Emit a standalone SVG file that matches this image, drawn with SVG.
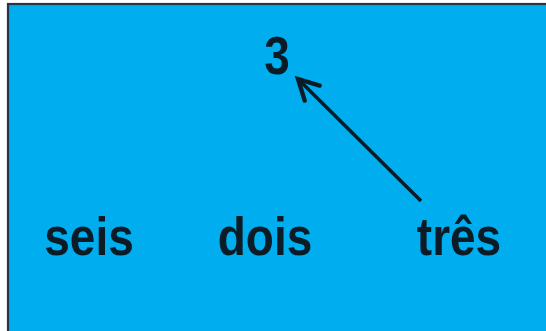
<svg xmlns="http://www.w3.org/2000/svg" width="546" height="331" viewBox="0 0 546 331">
  <style>
    .lbl { font-family: "Liberation Sans", Arial, sans-serif; font-weight: bold; font-size: 46px; fill: #0b1c26; text-anchor: middle; }
    .edge { stroke: #0b1c26; stroke-width: 3.5; fill: none; }
  </style>
  <defs>
    <marker id="open-arrow" markerUnits="userSpaceOnUse" orient="auto" markerWidth="30" markerHeight="30" viewBox="-20 -12 24 24" refX="0" refY="0">
      <path d="M -16 -8.5 L 0 0 L -16 8.5" fill="none" stroke="#0b1c26" stroke-width="3.5" stroke-linecap="round" stroke-linejoin="miter"/>
    </marker>
  </defs>

  <rect width="546" height="331" fill="#ffffff"/>
  <!-- panel, running off the right and bottom edges -->
  <rect x="8" y="4" width="560" height="340" fill="#00aeef" stroke="#263545" stroke-width="2.2"/>

  <g id="connectors">
    <path class="edge" d="M 421 201 L 298 79" marker-end="url(#open-arrow)"/>
  </g>

  <g id="node-3">
    <text class="lbl" transform="translate(277,74) scale(1,1.15)">3</text>
  </g>
  <g id="node-seis">
    <text class="lbl" transform="translate(89,255) scale(1,1.15)">seis</text>
  </g>
  <g id="node-dois">
    <text class="lbl" transform="translate(265,255) scale(1,1.15)">dois</text>
  </g>
  <g id="node-tres">
    <text class="lbl" transform="translate(459,255) scale(1,1.15)">três</text>
  </g>
</svg>
